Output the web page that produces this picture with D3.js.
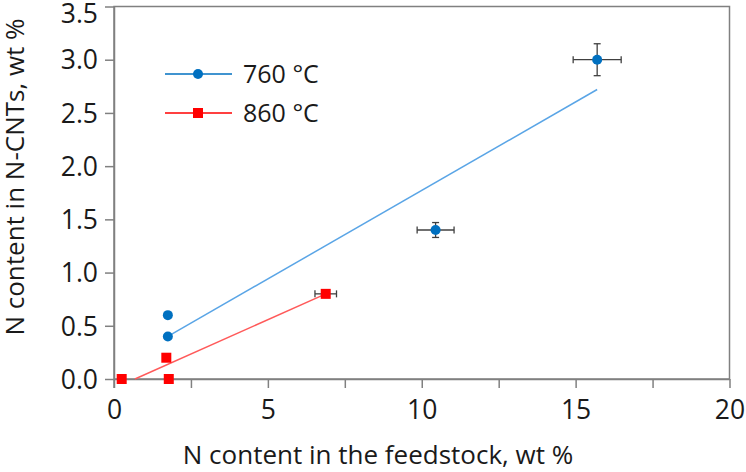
<!DOCTYPE html>
<html><head><meta charset="utf-8">
<script src="https://cdn.jsdelivr.net/npm/d3@7"></script>
<style>body{margin:0;background:#fff}svg{display:block}text{font-family:"Open Sans",sans-serif;fill:#1a1a1a}</style>
</head><body><svg id="c" width="746" height="472"></svg>
<script>
const xTicks = [0, 5, 10, 15, 20];
const xMinorTicks = [0, 2.5, 5, 7.5, 10, 12.5, 15, 17.5, 20];
const yTicks = [0, 0.5, 1.0, 1.5, 2.0, 2.5, 3.0, 3.5];
const s760 = [
  {x: 1.75, y: 0.6, ex: 0, ey: 0},
  {x: 1.75, y: 0.4, ex: 0, ey: 0},
  {x: 10.45, y: 1.4, ex: 0.6, ey: 0.07},
  {x: 15.7, y: 3.0, ex: 0.78, ey: 0.15}
];
const s860 = [
  {x: 0.25, y: 0, ex: 0, ey: 0},
  {x: 1.7, y: 0.2, ex: 0, ey: 0},
  {x: 1.78, y: 0, ex: 0, ey: 0},
  {x: 6.88, y: 0.8, ex: 0.35, ey: 0}
];
const fit760 = [{x: 1.75, y: 0.4}, {x: 15.7, y: 2.72}];
const fit860 = [{x: 0.68, y: 0}, {x: 6.88, y: 0.8}];
const legendLabels = ["760 °C", "860 °C"];

const svg = d3.select("#c");
const L = 114, R = 729.5, T = 6.5, B = 379;
const x = d3.scaleLinear().domain([0, 20]).range([L, R]);
const y = d3.scaleLinear().domain([0, 3.5]).range([B, T]);
const axisColor = "#808080";
const tickFont = 26.5;

// frame
svg.append("rect").attr("x", L).attr("y", T).attr("width", R - L).attr("height", B - T)
  .attr("fill", "none").attr("stroke", axisColor).attr("stroke-width", 1.5);

// x axis
const gx = svg.append("g").attr("transform", `translate(0,${B})`)
  .call(d3.axisBottom(x).tickValues(xMinorTicks).tickSize(9).tickFormat(d => xTicks.includes(d) ? d : "").tickSizeOuter(0));
gx.select(".domain").attr("stroke", axisColor).attr("stroke-width", 1.5);
gx.selectAll(".tick line").attr("stroke", axisColor).attr("stroke-width", 1.5);
gx.selectAll(".tick text").attr("font-size", tickFont).attr("dy", 0).attr("y", 40).style("fill", "#1a1a1a").attr("font-family", '"Open Sans",sans-serif');

// y axis
const gy = svg.append("g").attr("transform", `translate(${L},0)`)
  .call(d3.axisLeft(y).tickValues(yTicks).tickSize(9).tickFormat(d3.format(".1f")).tickSizeOuter(0));
gy.select(".domain").attr("stroke", axisColor).attr("stroke-width", 1.5);
gy.selectAll(".tick line").attr("stroke", axisColor).attr("stroke-width", 1.5);
gy.selectAll(".tick text").attr("font-size", tickFont).attr("x", -16).attr("dy", "0.35em").style("fill", "#1a1a1a").attr("font-family", '"Open Sans",sans-serif');
// keep the top label inside the picture, as in the reference
gy.selectAll(".tick").filter(d => d === 3.5).select("text").attr("y", 7);
// y axis extends down to x tick length
svg.append("line").attr("x1", L).attr("x2", L).attr("y1", B).attr("y2", B + 9).attr("stroke", axisColor).attr("stroke-width", 1.5);

// axis titles
svg.append("text").attr("x", 378).attr("y", 464).attr("text-anchor", "middle")
  .attr("font-size", 26).text("N content in the feedstock, wt %");
svg.append("text").attr("transform", `translate(24,177) rotate(-90)`).attr("text-anchor", "middle")
  .attr("font-size", 26).text("N content in N-CNTs, wt %");

const line = d3.line().x(d => x(d.x)).y(d => y(d.y));
svg.append("path").datum(fit760).attr("d", line).attr("stroke", "#5aa5e6").attr("stroke-width", 1.5).attr("fill", "none");
svg.append("path").datum(fit860).attr("d", line).attr("stroke", "#ff5a5a").attr("stroke-width", 1.5).attr("fill", "none");

function errorBars(data) {
  const g = svg.append("g").attr("stroke", "#404040").attr("stroke-width", 1.3);
  data.filter(d => d.ex > 0).forEach(d => {
    g.append("line").attr("x1", x(d.x - d.ex)).attr("x2", x(d.x + d.ex)).attr("y1", y(d.y)).attr("y2", y(d.y));
    [d.x - d.ex, d.x + d.ex].forEach(v => g.append("line").attr("x1", x(v)).attr("x2", x(v)).attr("y1", y(d.y) - 3.5).attr("y2", y(d.y) + 3.5));
  });
  data.filter(d => d.ey > 0).forEach(d => {
    g.append("line").attr("x1", x(d.x)).attr("x2", x(d.x)).attr("y1", y(d.y - d.ey)).attr("y2", y(d.y + d.ey));
    [d.y - d.ey, d.y + d.ey].forEach(v => g.append("line").attr("x1", x(d.x) - 3.5).attr("x2", x(d.x) + 3.5).attr("y1", y(v)).attr("y2", y(v)));
  });
}
errorBars(s760);
errorBars(s860);

svg.append("g").selectAll("circle").data(s760).join("circle")
  .attr("cx", d => x(d.x)).attr("cy", d => y(d.y)).attr("r", 5).attr("fill", "#0070c0");
svg.append("g").selectAll("rect").data(s860).join("rect")
  .attr("x", d => x(d.x) - 5).attr("y", d => y(d.y) - 5).attr("width", 10).attr("height", 10).attr("fill", "#ff0000");

// legend
const lg = svg.append("g");
const ly = [74, 113];
lg.append("line").attr("x1", 165).attr("x2", 232).attr("y1", ly[0]).attr("y2", ly[0]).attr("stroke", "#0070c0").attr("stroke-width", 1.5);
lg.append("circle").attr("cx", 198).attr("cy", ly[0]).attr("r", 5).attr("fill", "#0070c0");
lg.append("line").attr("x1", 165).attr("x2", 232).attr("y1", ly[1]).attr("y2", ly[1]).attr("stroke", "#ff0000").attr("stroke-width", 1.5);
lg.append("rect").attr("x", 193).attr("y", ly[1] - 5).attr("width", 10).attr("height", 10).attr("fill", "#ff0000");
legendLabels.forEach((t, i) => lg.append("text").attr("x", 243).attr("y", ly[i]).attr("dy", "0.35em").attr("font-size", 25).text(t));
</script></body></html>
